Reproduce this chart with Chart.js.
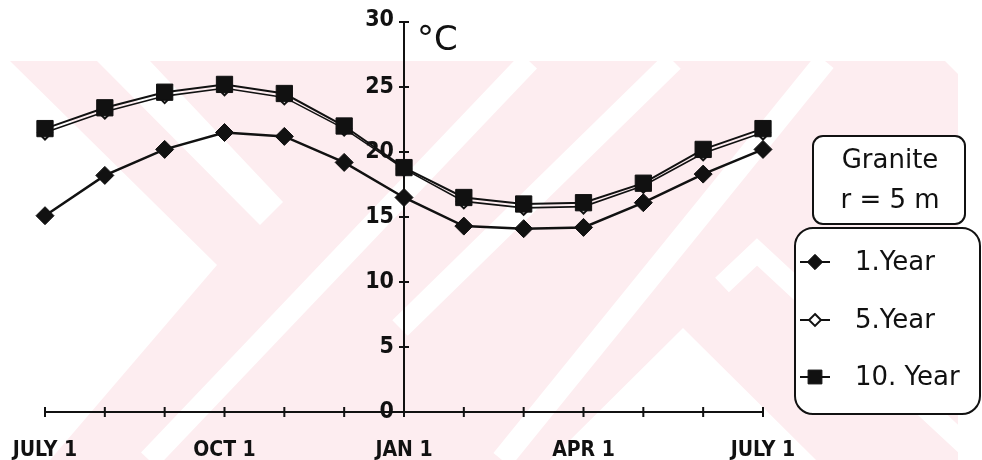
<!DOCTYPE html>
<html>
<head>
<meta charset="utf-8">
<script src="https://cdn.jsdelivr.net/npm/chart.js@4"></script>
<style>
  html, body { margin: 0; padding: 0; background: #fff; }
  #wrap { width: 982px; height: 460px; position: relative; }
</style>
</head>
<body>
<div id="wrap"><canvas id="c" width="982" height="460"></canvas></div>
<script>
// Monthly ground temperature at r = 5 m in granite, July to July
const months = ['JULY 1', '', '', 'OCT 1', '', '', 'JAN 1', '', '', 'APR 1', '', '', 'JULY 1'];
const year1  = [15.1, 18.2, 20.2, 21.5, 21.2, 19.2, 16.5, 14.3, 14.1, 14.2, 16.1, 18.3, 20.2];
const year5  = [21.5, 23.1, 24.3, 24.9, 24.2, 21.8, 18.7, 16.2, 15.7, 15.8, 17.4, 19.9, 21.5];
const year10 = [21.8, 23.4, 24.6, 25.2, 24.5, 22.0, 18.8, 16.5, 16.0, 16.1, 17.6, 20.2, 21.8];
const yTicks = [0, 5, 10, 15, 20, 25, 30];
const seriesNames = ['1.Year', '5.Year', '10. Year'];
const infoLines = ['Granite', 'r = 5 m'];
const unitLabel = '°C';
const axisMonthIndex = 6; // vertical axis sits on JAN 1

const INK = '#111';

// faint chevron pattern behind the plot
const backdrop = {
  id: 'backdrop',
  beforeDraw(chart) {
    const ctx = chart.ctx;
    const poly = (pts) => {
      ctx.beginPath();
      pts.forEach((p, i) => i ? ctx.lineTo(p[0], p[1]) : ctx.moveTo(p[0], p[1]));
      ctx.closePath();
    };
    const line = (pts, w) => {
      ctx.lineWidth = w;
      ctx.beginPath();
      pts.forEach((p, i) => i ? ctx.lineTo(p[0], p[1]) : ctx.moveTo(p[0], p[1]));
      ctx.stroke();
    };
    ctx.save();
    poly([[0, 61], [945, 61], [958, 74], [958, 460], [0, 460]]);
    ctx.clip();
    ctx.fillStyle = '#fdedf0';
    ctx.fillRect(0, 61, 960, 400);
    ctx.fillStyle = '#ffffff';
    ctx.strokeStyle = '#ffffff';
    ctx.lineCap = 'butt';
    ctx.lineJoin = 'miter';
    poly([[0, 61], [10, 61], [217, 265], [50, 460], [0, 460]]);
    ctx.fill();
    poly([[97, 61], [150, 61], [283, 202], [260, 225]]);
    ctx.fill();
    line([[149, 460], [529, 61]], 22);
    line([[400, 328], [673, 61]], 22);
    line([[502, 460], [825, 61]], 22);
    poly([[683, 328], [550, 460], [816, 460]]);
    ctx.fill();
    line([[722, 285], [757, 252], [965, 445]], 20);
    ctx.restore();
  }
};

// tick marks crossing both axes, value labels and unit
const axisDecor = {
  id: 'axisDecor',
  beforeDatasetsDraw(chart) {
    const { ctx, scales: { x, y } } = chart;
    const y0 = y.getPixelForValue(0);
    const x0 = x.getPixelForValue(axisMonthIndex);
    ctx.save();
    ctx.strokeStyle = INK;
    ctx.lineWidth = 2;
    ctx.beginPath();
    x.ticks.forEach((t, i) => {
      const px = x.getPixelForTick(i);
      ctx.moveTo(px, y0 - 5); ctx.lineTo(px, y0 + 5);
    });
    y.ticks.forEach((t, i) => {
      if (t.value === 0) return;
      const py = y.getPixelForTick(i);
      ctx.moveTo(x0 - 5, py); ctx.lineTo(x0 + 5, py);
    });
    ctx.stroke();
    ctx.fillStyle = INK;
    ctx.font = 'bold 23px "DejaVu Sans Condensed"';
    ctx.textAlign = 'right';
    ctx.textBaseline = 'middle';
    y.ticks.forEach((t, i) => {
      const py = y.getPixelForTick(i);
      ctx.fillText(String(t.value), x0 - 10, py - (t.value === 30 ? 2 : 0));
    });
    ctx.font = '34px "DejaVu Sans"';
    ctx.textAlign = 'left';
    ctx.fillText(unitLabel, x0 + 13, y.getPixelForValue(30) + 19);
    ctx.restore();
  }
};

function roundBox(ctx, x, y, w, h, r) {
  ctx.beginPath();
  ctx.moveTo(x + r, y);
  ctx.lineTo(x + w - r, y);
  ctx.arcTo(x + w, y, x + w, y + r, r);
  ctx.lineTo(x + w, y + h - r);
  ctx.arcTo(x + w, y + h, x + w - r, y + h, r);
  ctx.lineTo(x + r, y + h);
  ctx.arcTo(x, y + h, x, y + h - r, r);
  ctx.lineTo(x, y + r);
  ctx.arcTo(x, y, x + r, y, r);
  ctx.closePath();
}

// boxed caption and series key on the right
const sideLegend = {
  id: 'sideLegend',
  afterDraw(chart) {
    const ctx = chart.ctx;
    const left = chart.chartArea.right;
    ctx.save();
    ctx.strokeStyle = INK;
    ctx.lineWidth = 2;
    ctx.fillStyle = '#fff';
    roundBox(ctx, left + 50, 136, 152, 88, 10);
    ctx.fill(); ctx.stroke();
    ctx.fillStyle = INK;
    ctx.font = '26px "DejaVu Sans"';
    ctx.textAlign = 'center';
    ctx.textBaseline = 'middle';
    infoLines.forEach((t, i) => ctx.fillText(t, left + 127, 161 + i * 40));
    ctx.fillStyle = '#fff';
    roundBox(ctx, left + 32, 228, 185, 186, 18);
    ctx.fill(); ctx.stroke();
    const rows = [262, 320, 377];
    chart.data.datasets.forEach((ds, i) => {
      const cy = rows[i];
      const cx = left + 52;
      ctx.strokeStyle = INK;
      ctx.lineWidth = 2;
      ctx.beginPath();
      ctx.moveTo(cx - 15, cy); ctx.lineTo(cx + 15, cy);
      ctx.stroke();
      ctx.fillStyle = ds.pointBackgroundColor;
      ctx.strokeStyle = ds.pointBorderColor;
      ctx.lineWidth = ds.pointBorderWidth || 1;
      const r = ds.pointRadius * 0.85;
      ctx.beginPath();
      if (ds.pointStyle === 'rect') {
        const s = Math.SQRT1_2 * r;
        ctx.rect(cx - s, cy - s, 2 * s, 2 * s);
      } else {
        ctx.moveTo(cx, cy - r); ctx.lineTo(cx + r, cy); ctx.lineTo(cx, cy + r); ctx.lineTo(cx - r, cy); ctx.closePath();
      }
      ctx.fill(); ctx.stroke();
      ctx.fillStyle = INK;
      ctx.font = '26px "DejaVu Sans"';
      ctx.textAlign = 'left';
      ctx.textBaseline = 'middle';
      ctx.fillText(ds.label, left + 92, cy + 1);
    });
    ctx.restore();
  }
};

const ctx = document.getElementById('c').getContext('2d');
new Chart(ctx, {
  type: 'line',
  data: {
    labels: months,
    datasets: [
      {
        label: seriesNames[0], data: year1, order: 2, clip: false,
        borderColor: INK, borderWidth: 2.5, tension: 0,
        pointStyle: 'rectRot', pointRadius: 9,
        pointBackgroundColor: INK, pointBorderColor: INK, pointBorderWidth: 1
      },
      {
        label: seriesNames[1], data: year5, order: 1, clip: false,
        borderColor: INK, borderWidth: 1.6, tension: 0,
        pointStyle: 'rectRot', pointRadius: 7,
        pointBackgroundColor: '#fff', pointBorderColor: INK, pointBorderWidth: 2
      },
      {
        label: seriesNames[2], data: year10, order: 0, clip: false,
        borderColor: INK, borderWidth: 2, tension: 0,
        pointStyle: 'rect', pointRadius: 11.5,
        pointBackgroundColor: INK, pointBorderColor: INK, pointBorderWidth: 1
      }
    ]
  },
  options: {
    responsive: false,
    animation: false,
    events: [],
    layout: { padding: { left: 45, right: 219, top: 22, bottom: 48 } },
    plugins: { legend: { display: false }, tooltip: { enabled: false }, title: { display: false } },
    scales: {
      x: {
        type: 'category',
        position: { y: 0 },
        offset: false,
        grid: { display: false, drawTicks: false },
        border: { display: true, color: INK, width: 2 },
        afterFit(scale) { scale.paddingLeft = 0; scale.paddingRight = 0; },
        ticks: {
          autoSkip: false, maxRotation: 0, minRotation: 0, padding: 26,
          color: INK,
          font: { family: '"DejaVu Sans Condensed"', size: 21, weight: 'bold' }
        }
      },
      y: {
        position: { x: axisMonthIndex },
        min: yTicks[0], max: yTicks[yTicks.length - 1],
        afterBuildTicks(scale) { scale.ticks = yTicks.map(v => ({ value: v })); },
        afterFit(scale) { scale.paddingTop = 0; scale.paddingBottom = 0; },
        grid: { display: false, drawTicks: false },
        border: { display: true, color: INK, width: 2 },
        ticks: { display: false }
      }
    }
  },
  plugins: [backdrop, axisDecor, sideLegend]
});
</script>
</body>
</html>
